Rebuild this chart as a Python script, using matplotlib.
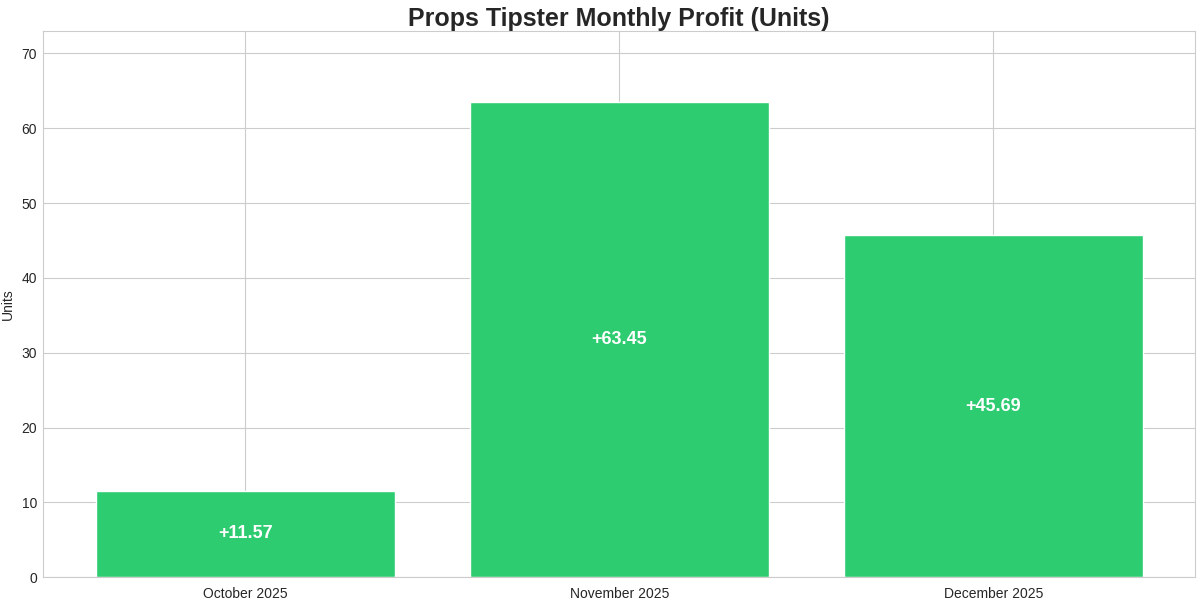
import matplotlib
matplotlib.use("Agg")
import matplotlib.pyplot as plt
import seaborn as sns

months = ["October 2025", "November 2025", "December 2025"]
profits = [11.57, 63.45, 45.69]
bar_color = "#2ecc71"

sns.set_style("whitegrid")
plt.rcParams['font.family'] = ['Liberation Sans', 'DejaVu Sans']

fig, ax = plt.subplots(figsize=(12, 6), dpi=100)
bars = ax.bar(months, profits, color=bar_color, width=0.8)
for b, v in zip(bars, profits):
    ax.text(b.get_x() + b.get_width() / 2, v / 2, f"{v:+.2f}", ha="center", va="center",
            color="white", fontsize=13, fontweight="bold")
ax.set_ylim(0, max(profits) * 1.15)
ax.set_title("Props Tipster Monthly Profit (Units)", fontsize=18, fontweight="bold", pad=4)
ax.set_ylabel("Units", fontsize=10, labelpad=5)
ax.tick_params(labelsize=10)
ax.tick_params(axis="y", pad=1)
fig.subplots_adjust(left=0.036, right=0.996, top=0.948, bottom=0.038)
fig.savefig("out.png", dpi=100)
